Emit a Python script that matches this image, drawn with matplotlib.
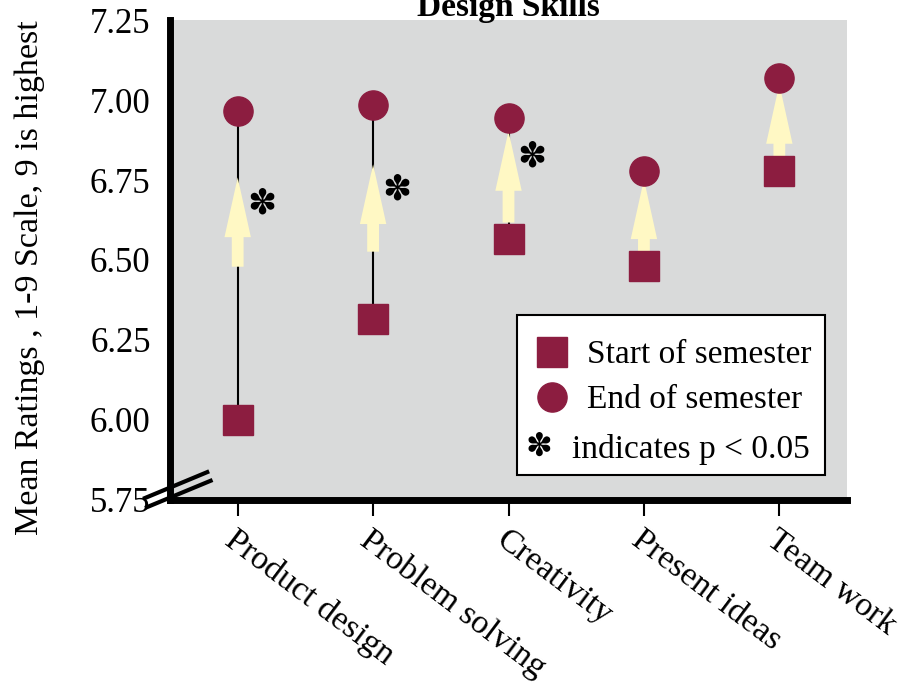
import matplotlib
matplotlib.use("Agg")
import matplotlib.pyplot as plt
from matplotlib.patches import FancyArrowPatch, Rectangle
import matplotlib.transforms as mtransforms

plt.rcParams['font.family'] = ['Liberation Serif', 'DejaVu Serif', 'DejaVu Sans']

# Data
skills = ['Product design', 'Problem solving', 'Creativity', 'Present ideas', 'Team work']
start_mean = [6.00, 6.316, 6.566, 6.481, 6.778]
end_mean = [6.965, 6.985, 6.944, 6.778, 7.069]
arrow_lo = [6.479, 6.526, 6.617, 6.526, 6.821]
arrow_hi = [6.758, 6.799, 6.903, 6.752, 7.050]
significant = [True, True, True, False, False]
yticks = [5.75, 6.00, 6.25, 6.50, 6.75, 7.00, 7.25]

maroon = '#8C1D40'
cream = '#FFF8C4'
star = '\u273D'

fig = plt.figure(figsize=(9.07, 6.88), dpi=100)
ax = fig.add_axes([0.1874, 0.2733, 0.7465, 0.6976])
ax.set_facecolor('#D9DADA')

x = list(range(len(skills)))

# connecting lines
ax.vlines(x, start_mean, end_mean, color='black', linewidth=1.5, zorder=2)

# arrows
for xi, lo, hi in zip(x, arrow_lo, arrow_hi):
    arr = FancyArrowPatch((xi, lo), (xi, hi),
                          arrowstyle='simple,head_length=43,head_width=19,tail_width=8.5',
                          mutation_scale=1, color=cream, shrinkA=0, shrinkB=0,
                          linewidth=0, zorder=3)
    ax.add_patch(arr)

ax.plot(x, start_mean, linestyle='none', marker='s', markersize=21,
        color=maroon, zorder=4)
ax.plot(x, end_mean, linestyle='none', marker='o', markersize=21,
        color=maroon, zorder=4)

# significance asterisks
for xi, hi, sig in zip(x, arrow_hi, significant):
    if sig:
        ax.text(xi + 0.175, hi - 0.08, star, family='DejaVu Sans',
                fontsize=25, ha='center', va='center', zorder=5)

ax.set_xlim(-0.5, 4.5)
ax.set_ylim(5.75, 7.25)
ax.set_yticks(yticks)
ax.set_yticklabels([f'{v:.2f}' for v in yticks])
ax.set_xticks(x)
ax.set_xticklabels(skills, rotation=-37, ha='left', va='top',
                   rotation_mode='anchor')

for lab in ax.get_xticklabels():
    lab.set_transform(lab.get_transform() +
                      mtransforms.ScaledTranslation(2 / 72, -2 / 72, fig.dpi_scale_trans))

ax.tick_params(axis='y', length=0, pad=14, labelsize=25)
ax.tick_params(axis='x', length=11.5, width=1.5, direction='out', pad=6, labelsize=24.5)

for side in ['top', 'right']:
    ax.spines[side].set_visible(False)
for side in ['left', 'bottom']:
    ax.spines[side].set_linewidth(5)
    ax.spines[side].set_capstyle('projecting')

ax.set_ylabel('Mean Ratings , 1-9 Scale, 9 is highest', fontsize=24.5)
ax.yaxis.set_label_coords(-0.185, 0.4625)
ax.text(0.5, 1.008, 'Design Skills', transform=ax.transAxes, ha='center',
        va='baseline', fontsize=24, fontweight='bold')

# axis break marks
ax.plot([-0.037, 0.055], [0.004, 0.058], transform=ax.transAxes, color='black',
        linewidth=3, clip_on=False, zorder=6)
ax.plot([-0.034, 0.060], [-0.015, 0.040], transform=ax.transAxes, color='black',
        linewidth=3, clip_on=False, zorder=6)

# legend box (drawn by hand: the asterisk row is offset in the original)
ax.add_patch(Rectangle((0.5126, 0.052), 0.4549, 0.3334, transform=ax.transAxes,
                       facecolor='white', edgecolor='black', linewidth=1.5,
                       zorder=7))
ax.plot([0.5643], [0.3083], transform=ax.transAxes, marker='s', markersize=21,
        color=maroon, linestyle='none', zorder=8)
ax.plot([0.5643], [0.2146], transform=ax.transAxes, marker='o', markersize=21,
        color=maroon, linestyle='none', zorder=8)
ax.text(0.545, 0.1104, star, transform=ax.transAxes, family='DejaVu Sans',
        fontsize=23, ha='center', va='center', zorder=8)
ax.text(0.616, 0.3023, 'Start of semester', transform=ax.transAxes,
        fontsize=24, ha='left', va='center', zorder=8)
ax.text(0.616, 0.2086, 'End of semester', transform=ax.transAxes,
        fontsize=24, ha='left', va='center', zorder=8)
ax.text(0.5938, 0.1044, 'indicates p < 0.05', transform=ax.transAxes,
        fontsize=24, ha='left', va='center', zorder=8)

fig.savefig('out.png', dpi=100)
